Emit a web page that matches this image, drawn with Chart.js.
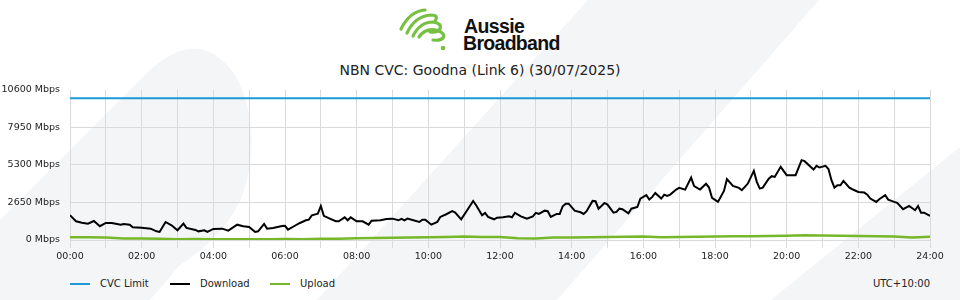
<!DOCTYPE html>
<html><head><meta charset="utf-8">
<script src="https://cdn.jsdelivr.net/npm/chart.js@4/dist/chart.umd.min.js"></script>
<style>
html,body{margin:0;padding:0;width:960px;height:300px;overflow:hidden;background:#fff;font-family:"DejaVu Sans",sans-serif;}
#bg{position:absolute;left:0;top:0;}
#title{position:absolute;left:0;width:960px;top:61px;text-align:center;font-size:14px;color:#222;line-height:18px;white-space:nowrap;}
#wrap{position:absolute;left:0;top:74px;width:960px;height:196px;}
#legend{position:absolute;left:0;top:276px;width:960px;height:16px;font-size:10px;color:#222;}
.li{position:absolute;top:0;height:16px;line-height:16px;white-space:nowrap;}
.sw{position:absolute;left:0;top:7px;width:20px;height:2px;}
.lt{position:absolute;left:30px;top:0;}
#tz{position:absolute;right:30px;top:0;line-height:16px;}
</style></head>
<body>
<svg id="bg" width="960" height="300" xmlns="http://www.w3.org/2000/svg">
  <path d="M0,220 L150,70 Q200,25 235,75 Q260,120 247,180 Q235,230 180,265 L150,300 L0,300 Z" fill="#f4f5f7"/>
  <path d="M588,0 L819,0 L557,300 L317,300 Z" fill="#f4f5f7"/>
  <path d="M771,300 L960,147 L960,300 Z" fill="#f4f5f7"/>
  <g fill="none" stroke="#77c043" stroke-width="3.2" stroke-linecap="round" stroke-linejoin="round">
    <path d="M401,29 Q410,11 425,10"/>
    <path d="M407,33 Q415,16 431,15 Q439,15 435,21"/>
    <path d="M413,36 Q420,22 433,22 Q442,23 440,29 Q437,33 430,32"/>
    <path d="M419,37 Q425,28 436,30 Q446,33 443,38 Q440,41 433,40"/>
  </g>
  <circle cx="443" cy="48" r="2.3" fill="#77c043"/>
  <text x="464" y="33" font-family="Liberation Sans, Arial, sans-serif" font-weight="bold" font-size="19.5" letter-spacing="-0.6" fill="#111">Aussie</text>
  <text x="463" y="49.5" font-family="Liberation Sans, Arial, sans-serif" font-weight="bold" font-size="19.5" letter-spacing="-0.7" fill="#111">Broadband</text>
</svg>
<div id="title">NBN CVC: Goodna (Link 6) (30/07/2025)</div>
<div id="wrap"><canvas id="c" width="960" height="196"></canvas></div>
<div id="legend"></div>
<script>
const chartTitle = 'NBN CVC: Goodna (Link 6) (30/07/2025)';
const timezoneLabel = 'UTC+10:00';
const seriesNames = ['CVC Limit', 'Download', 'Upload'];
const xTickLabels = ['00:00','02:00','04:00','06:00','08:00','10:00','12:00','14:00','16:00','18:00','20:00','22:00','24:00'];
const yTicks = [0, 2650, 5300, 7950, 10600];

const limitTimes = ['00:00', '24:00'];
const cvcLimit = [10000, 10000];

const downloadTimes = ['00:00','00:10','00:20','00:30','00:40','00:50','01:00','01:10','01:25','01:30','01:40','01:45','02:00','02:15','02:25','02:30','02:40','02:50','03:00','03:10','03:15','03:30','03:35','03:45','03:50','04:00','04:15','04:25','04:40','04:50','05:00','05:10','05:15','05:25','05:30','05:40','05:55','06:00','06:05','06:15','06:25','06:35','06:40','06:45','06:55','07:00','07:05','07:15','07:25','07:30','07:40','07:45','07:50','08:00','08:10','08:20','08:25','08:40','08:50','09:00','09:10','09:15','09:20','09:25','09:35','09:45','09:50','09:55','10:05','10:15','10:20','10:30','10:40','10:45','10:55','11:05','11:15','11:20','11:30','11:35','11:40','11:50','11:55','12:05','12:15','12:20','12:25','12:35','12:45','12:55','13:00','13:05','13:15','13:20','13:25','13:35','13:40','13:45','13:50','13:55','14:05','14:15','14:20','14:25','14:35','14:40','14:45','14:55','15:00','15:10','15:15','15:20','15:25','15:35','15:40','15:50','15:55','16:05','16:10','16:15','16:20','16:30','16:35','16:40','16:45','16:55','17:00','17:10','17:20','17:25','17:35','17:45','17:50','17:55','18:05','18:15','18:20','18:30','18:40','18:45','18:55','19:05','19:10','19:15','19:20','19:30','19:35','19:40','19:50','20:00','20:15','20:25','20:30','20:40','20:45','20:50','20:55','21:05','21:10','21:15','21:20','21:25','21:30','21:35','21:45','21:50','22:00','22:10','22:15','22:20','22:30','22:35','22:45','22:50','23:00','23:05','23:15','23:25','23:35','23:40','23:45','23:50','24:00'];
const download = [1750,1320,1220,1150,1340,970,1200,1200,1080,1130,1080,900,870,800,610,565,1270,1040,685,1150,850,710,610,685,565,780,800,660,1080,970,920,565,610,1130,800,850,990,1000,730,970,1200,1390,1435,1745,1860,2400,1700,1505,1320,1320,1600,1390,1600,1320,1320,1080,1365,1390,1485,1505,1390,1485,1390,1505,1390,1270,1435,1435,1080,1270,1625,1815,2030,1930,1460,2100,2755,2450,1745,1910,1625,1460,1575,1600,1670,1600,1910,1670,1505,1670,1910,1840,2070,2030,1625,1840,1840,2380,2565,2565,2070,1955,1840,2030,2755,2730,2210,2615,2495,1930,1980,2210,2170,1885,2210,2330,2920,3160,2850,3040,3320,2920,3200,3110,3200,3555,3675,3555,4400,3795,3555,3960,3700,2970,2685,3460,4290,3815,3675,3510,3980,4875,4100,3625,3695,4330,4500,4450,5160,4570,4570,5630,5560,5160,4970,5230,5110,5230,5000,4220,3695,3865,3865,4170,3695,3580,3390,3345,3200,2920,2685,2875,3160,2850,2685,2615,2170,2400,2100,2400,1930,1930,1700];

const uploadTimes = ['00:00','00:30','01:00','01:30','02:00','02:30','03:00','03:30','04:00','04:30','05:00','05:30','06:00','06:30','07:00','07:30','08:00','08:30','09:00','09:30','10:00','10:30','11:00','11:30','12:00','12:30','13:00','13:30','14:00','14:30','15:00','15:30','16:00','16:30','17:00','17:30','18:00','18:30','19:00','19:30','20:00','20:30','21:00','21:30','22:00','22:30','23:00','23:30','24:00'];
const upload = [190,200,170,110,100,90,60,70,60,50,60,55,70,60,80,90,130,140,160,180,190,210,240,215,210,120,110,170,180,190,220,230,240,200,210,230,250,260,270,290,300,330,320,300,280,270,240,180,230];

const seriesColors = ['#1b9ad6', '#000000', '#76b82a'];

function toHours(s){ const p = s.split(':').map(Number); return p[0] + p[1]/60; }
function toPoints(t, v){ return t.map((s,i)=>({x: toHours(s), y: v[i]})); }

document.getElementById('title').textContent = chartTitle;

const chart = new Chart(document.getElementById('c'), {
  type: 'line',
  data: {
    datasets: [
      {label: seriesNames[0], data: toPoints(limitTimes, cvcLimit), borderColor: seriesColors[0], borderWidth: 2, pointRadius: 0, tension: 0},
      {label: seriesNames[1], data: toPoints(downloadTimes, download), borderColor: seriesColors[1], borderWidth: 2, pointRadius: 0, tension: 0},
      {label: seriesNames[2], data: toPoints(uploadTimes, upload), borderColor: seriesColors[2], borderWidth: 2.5, pointRadius: 0, tension: 0}
    ]
  },
  options: {
    responsive: false, animation: false, events: [],
    layout: {padding: {left: 0, right: 30, top: 10, bottom: 6}},
    plugins: {legend: {display: false}, tooltip: {enabled: false}, title: {display: false}},
    scales: {
      x: {
        type: 'linear', min: 0, max: 24,
        afterBuildTicks: s => { s.ticks = []; for (let h = 0; h <= 24; h++) s.ticks.push({value: h}); },
        afterFit: s => { s.height = 24; },
        ticks: {autoSkip: false, maxRotation: 0, minRotation: 0, padding: 3, color: '#222',
          font: {family: 'DejaVu Sans', size: 9.5},
          callback: v => (v % 2 === 0 ? xTickLabels[v / 2] : '')},
        grid: {color: '#dadada', tickLength: 8, lineWidth: 1},
        border: {display: false}
      },
      y: {
        min: 0, max: 10600,
        afterBuildTicks: s => { s.ticks = yTicks.map(v => ({value: v})); },
        afterFit: s => { s.width = 70; },
        ticks: {padding: 10, color: '#222', font: {family: 'DejaVu Sans', size: 9.5},
          callback: v => v + ' Mbps'},
        grid: {drawTicks: false, lineWidth: 1,
          color: c => (c.tick && c.tick.value === 10600 ? 'rgba(0,0,0,0)' : '#dadada')},
        border: {display: false}
      }
    }
  }
});

const lg = document.getElementById('legend');
chart.data.datasets.forEach((d, i) => {
  const item = document.createElement('div');
  item.className = 'li';
  item.style.left = (70 + 100 * i) + 'px';
  const sw = document.createElement('div'); sw.className = 'sw'; sw.style.background = d.borderColor;
  const t = document.createElement('span'); t.className = 'lt'; t.textContent = d.label;
  item.appendChild(sw); item.appendChild(t); lg.appendChild(item);
});
const tz = document.createElement('div'); tz.id = 'tz'; tz.textContent = timezoneLabel; lg.appendChild(tz);
</script>
</body></html>
